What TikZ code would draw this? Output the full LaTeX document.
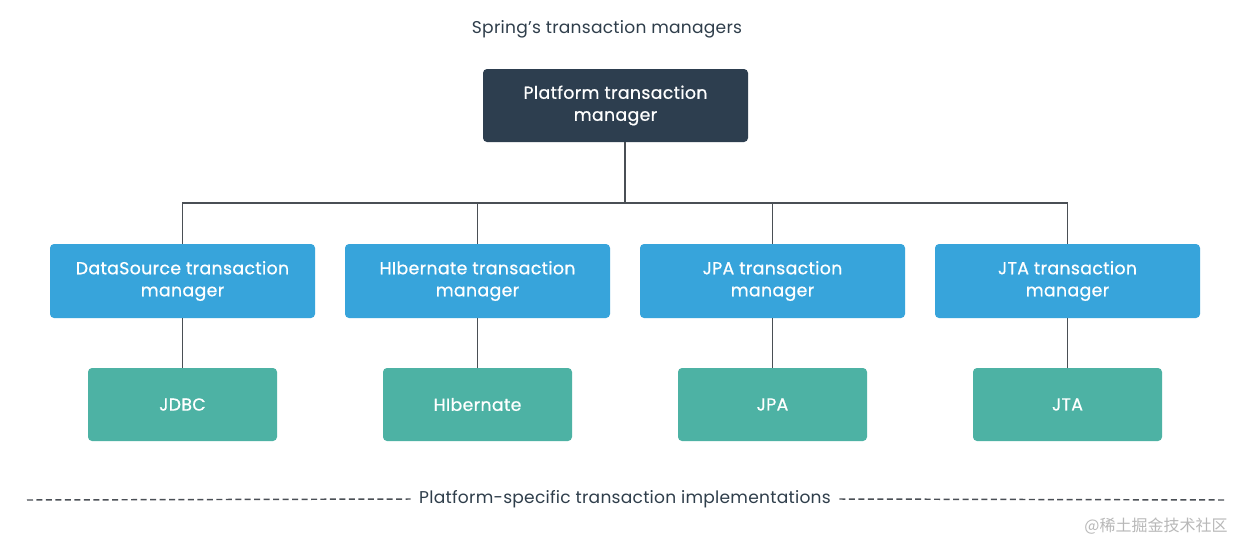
\documentclass[tikz,border=0pt]{standalone}
\usepackage{fontspec}
\setmainfont{Poppins}
\newfontfamily\boxfont{Poppins}[FakeBold=0.7,LetterSpace=2]
\newfontfamily\capfont{Poppins}[LetterSpace=1.5]
\newfontfamily\cjk{Noto Sans CJK SC}
\definecolor{darkbox}{HTML}{2D3E4F}
\definecolor{bluebox}{HTML}{37A4DB}
\definecolor{greenbox}{HTML}{4DB2A4}
\definecolor{linecol}{HTML}{4A4F55}
\definecolor{textcol}{HTML}{2F3E4B}
\begin{document}
\begin{tikzpicture}[x=0.75pt,y=-0.75pt,
  boxbase/.style={rounded corners=3pt,text=white,align=center,inner sep=0pt,
    font=\boxfont\fontsize{13}{16.5}\selectfont},
  topbox/.style={boxbase,fill=darkbox,minimum width=198.75pt,minimum height=54.75pt},
  mgrbox/.style={boxbase,fill=bluebox,minimum width=198.75pt,minimum height=55.5pt},
  implbox/.style={boxbase,fill=greenbox,minimum width=141.75pt,minimum height=54.75pt},
  conn/.style={draw=linecol,line width=1.3pt},
  caption/.style={text=textcol,font=\capfont\fontsize{12.8}{15}\selectfont}]
\useasboundingbox (0,0) rectangle (1245,543);
\fill[white] (0,0) rectangle (1245,543);
\node[caption] (title) at (607,29) {Spring’s transaction managers};
\node[topbox] (plat) at (615.5,105.5) {Platform transaction\\manager};
\node[mgrbox] (ds)  at (182.5,281) {DataSource transaction\\manager};
\node[mgrbox] (hib) at (477.5,281) {HIbernate transaction\\manager};
\node[mgrbox] (jpa) at (772.5,281) {JPA transaction\\manager};
\node[mgrbox] (jta) at (1067.5,281) {JTA transaction\\manager};
\node[implbox] (jdbc)  at (182.5,404.5) {JDBC};
\node[implbox] (hibi)  at (477.5,404.5) {HIbernate};
\node[implbox] (jpai)  at (772.5,404.5) {JPA};
\node[implbox] (jtai)  at (1067.5,404.5) {JTA};
\coordinate (hub) at (625,203);
\draw[conn] (plat.south -| hub) -- (hub);
\draw[conn] (ds.north) |- (hub) -| (jta.north);
\draw[conn] (hib.north) -- (hib.north |- hub);
\draw[conn] (jpa.north) -- (jpa.north |- hub);
\draw[conn] (ds) -- (jdbc);
\draw[conn] (hib) -- (hibi);
\draw[conn] (jpa) -- (jpai);
\draw[conn] (jta) -- (jtai);
\node[caption] (impl) at (625,499) {Platform-specific transaction implementations};
\coordinate (dl) at (27,500);
\coordinate (dr) at (1226,500);
\draw[draw=linecol,line width=1.1pt,dash pattern=on 4.5pt off 2.6pt] (dl) -- ([xshift=-3pt]impl.west);
\draw[draw=linecol,line width=1.1pt,dash pattern=on 4.5pt off 2.6pt] ([xshift=3pt]impl.east) -- (dr);
\node[text=black!28,font=\cjk\fontsize{12}{14}\selectfont] (wm) at (1156,526) {@稀土掘金技术社区};
\end{tikzpicture}
\end{document}
